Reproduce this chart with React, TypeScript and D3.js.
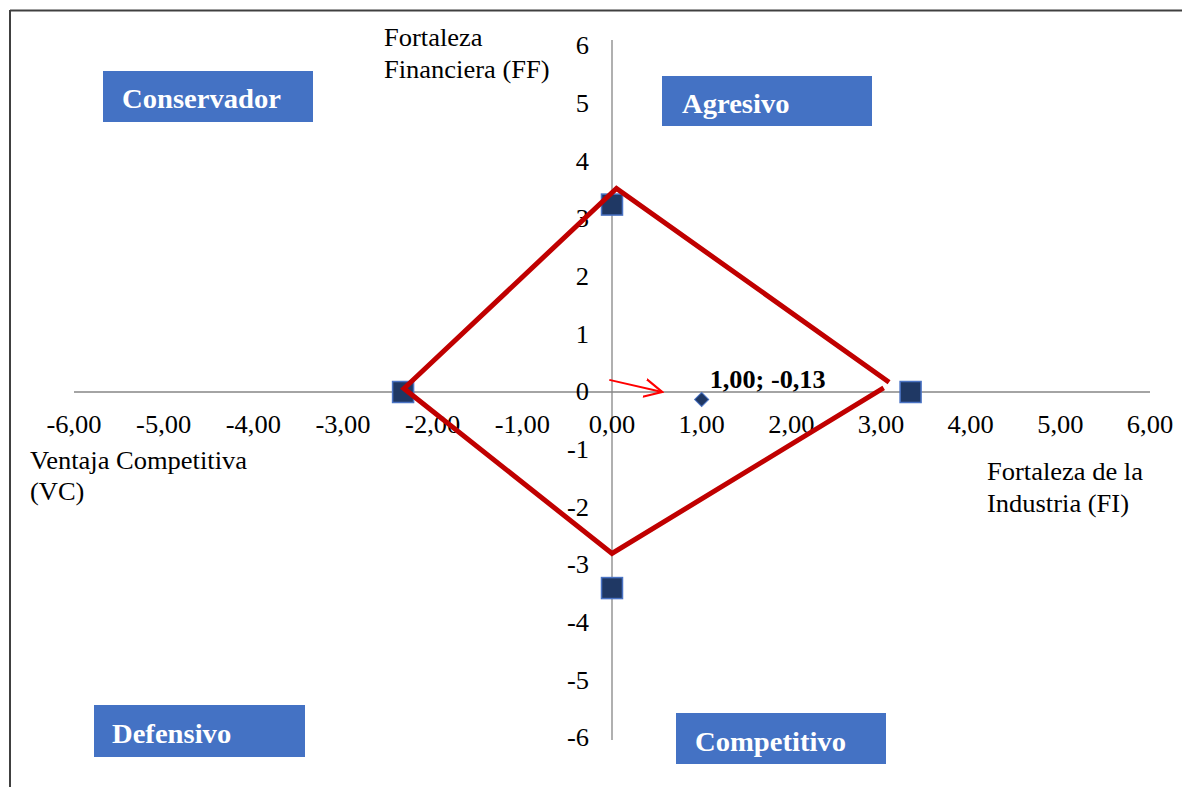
import React from "react";
import * as d3 from "d3";

const xTicks = [-6, -5, -4, -3, -2, -1, 0, 1, 2, 3, 4, 5, 6];
const yTicks = [-6, -5, -4, -3, -2, -1, 0, 1, 2, 3, 4, 5, 6];

// Vertices of the strategic position (squares)
const squareX = [3.33, -2.33, 0, 0];
const squareY = [0, 0, 3.25, -3.4];

// Resulting vector point
const resultX = [1.0];
const resultY = [-0.13];
const resultLabel = "1,00; -0,13";

// Red polygon (open polyline)
const polyX = [3.03, 0, -2.32, 0.05, 3.09];
const polyY = [0.07, -2.8, 0.06, 3.53, 0.17];

// Red arrow
const arrowX = [-0.03, 0.56];
const arrowY = [0.21, 0.0];

const quadrantNames = ["Conservador", "Agresivo", "Defensivo", "Competitivo"];

const W = 1182;
const H = 787;
const FONT = "'Liberation Serif', 'Times New Roman', serif";

const fmtX = (v: number) =>
  (v < 0 ? "-" : "") + Math.abs(v).toFixed(2).replace(".", ",");
const fmtY = (v: number) => (v < 0 ? "-" : "") + Math.abs(v).toString();

type TProps = {
  x: number;
  y: number;
  size: number;
  sx?: number;
  anchor?: "start" | "middle" | "end";
  bold?: boolean;
  fill?: string;
  central?: boolean;
  children: React.ReactNode;
};

function T({ x, y, size, sx = 1.06, anchor = "start", bold, fill = "#000", central, children }: TProps) {
  return (
    <text
      transform={`translate(${x},${y}) scale(${sx},1)`}
      textAnchor={anchor}
      fontSize={size}
      fontWeight={bold ? "bold" : "normal"}
      fill={fill}
      dominantBaseline={central ? "central" : undefined}
    >
      {children}
    </text>
  );
}

export default function App() {
  const x = d3.scaleLinear().domain([-6, 6]).range([74, 1150]);
  const y = d3.scaleLinear().domain([-6, 6]).range([738, 46]);

  const line = d3
    .line<number>()
    .x((_, i) => x(polyX[i]))
    .y((_, i) => y(polyY[i]));
  const polyPath = line(polyX) || "";

  const squareSize = 21;
  const boxes = [
    { x: 103, y: 71, w: 210, h: 51, tx: 122, ty: 108 },
    { x: 662, y: 76, w: 210, h: 50, tx: 682, ty: 113 },
    { x: 94, y: 705, w: 211, h: 52, tx: 112, ty: 743 },
    { x: 676, y: 713, w: 210, h: 51, tx: 695, ty: 751 },
  ];

  return (
    <svg
      width={W}
      height={H}
      style={{ position: "absolute", left: 0, top: 0, background: "#fff" }}
      fontFamily={FONT}
    >
      <defs>
        <marker
          id="arrowhead"
          viewBox="0 0 10 10"
          refX="9"
          refY="5"
          markerWidth="20"
          markerHeight="20"
          orient="auto"
          markerUnits="userSpaceOnUse"
        >
          <path d="M0,0.5 L9,5 L0,9.5" fill="none" stroke="#FF0000" strokeWidth="1.1" />
        </marker>
      </defs>
      <rect x={0} y={0} width={W} height={H} fill="#fff" />
      {/* frame */}
      <line x1={10} y1={10.5} x2={W} y2={10.5} stroke="#404040" strokeWidth={2} />
      <line x1={10} y1={10} x2={10} y2={H} stroke="#404040" strokeWidth={2} />

      {/* axes */}
      <line x1={x(-6)} x2={x(6)} y1={y(0)} y2={y(0)} stroke="#868686" strokeWidth={1.3} />
      <line x1={x(0)} x2={x(0)} y1={y(6) - 6} y2={y(-6) + 2} stroke="#868686" strokeWidth={1.3} />

      {/* x tick labels */}
      {xTicks.map((t) => (
        <T key={"xt" + t} x={x(t)} y={433} size={25} anchor="middle">
          {fmtX(t)}
        </T>
      ))}
      {/* y tick labels */}
      {yTicks.map((t) => (
        <T key={"yt" + t} x={589} y={y(t)} size={25} anchor="end" central>
          {fmtY(t)}
        </T>
      ))}

      {/* axis titles */}
      <T x={384} y={46} size={25}>Fortaleza</T>
      <T x={384} y={78} size={25}>Financiera (FF)</T>
      <T x={30} y={469} size={25}>Ventaja Competitiva</T>
      <T x={30} y={500} size={25}>(VC)</T>
      <T x={987} y={480} size={25}>Fortaleza de la</T>
      <T x={987} y={512} size={25}>Industria (FI)</T>

      {/* quadrant boxes */}
      {boxes.map((b, i) => (
        <g key={"q" + i}>
          <rect x={b.x} y={b.y} width={b.w} height={b.h} fill="#4472C4" />
          <T x={b.tx} y={b.ty} size={27} sx={1.06} bold fill="#fff">
            {quadrantNames[i]}
          </T>
        </g>
      ))}

      {/* squares */}
      {squareX.map((sx, i) => (
        <rect
          key={"s" + i}
          x={x(sx) - squareSize / 2}
          y={y(squareY[i]) - squareSize / 2}
          width={squareSize}
          height={squareSize}
          fill="#1F3864"
          stroke="#4A73C4"
          strokeWidth={1.5}
        />
      ))}

      {/* red polygon */}
      <path d={polyPath} fill="none" stroke="#C00000" strokeWidth={5} strokeLinejoin="miter" />

      {/* result point */}
      {resultX.map((rx, i) => (
        <g key={"r" + i}>
          <rect
            x={x(rx) - 5}
            y={y(resultY[i]) - 5}
            width={10}
            height={10}
            transform={`rotate(45 ${x(rx)} ${y(resultY[i])})`}
            fill="#1F3864"
            stroke="#4A73C4"
            strokeWidth={1}
          />
          <T x={x(rx) + 8} y={388} size={25} sx={1.05} bold>
            {resultLabel}
          </T>
        </g>
      ))}

      {/* arrow */}
      <line
        x1={x(arrowX[0])}
        y1={y(arrowY[0])}
        x2={x(arrowX[1])}
        y2={y(arrowY[1])}
        stroke="#FF0000"
        strokeWidth={2}
        markerEnd="url(#arrowhead)"
      />
    </svg>
  );
}
